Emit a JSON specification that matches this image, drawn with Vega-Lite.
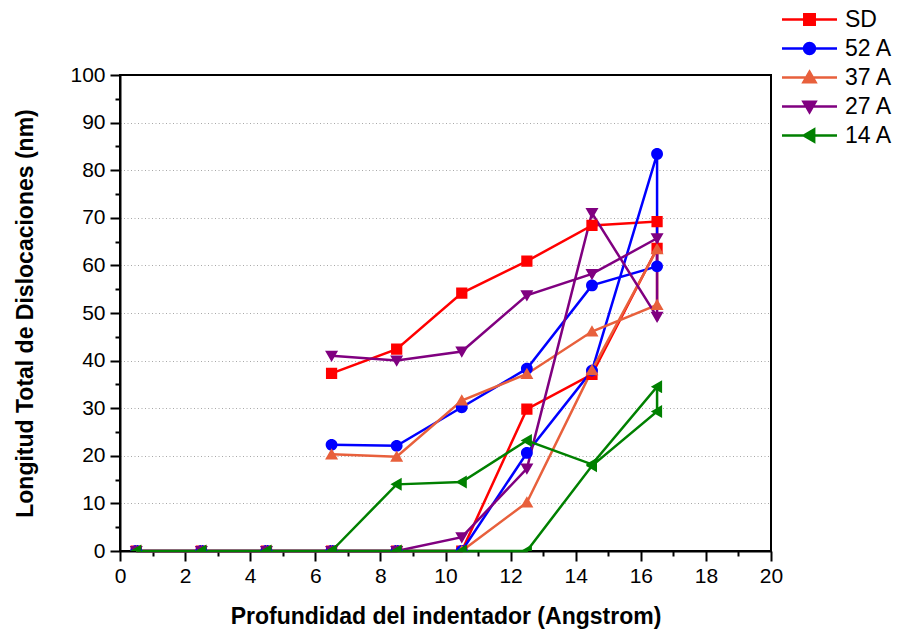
{
  "$schema": "https://vega.github.io/schema/vega-lite/v6.json",
  "autosize": "none",
  "width": 651,
  "height": 476,
  "padding": {"left": 120, "top": 75, "right": 127, "bottom": 79},
  "background": "white",
  "config": {
    "font": "Liberation Sans",
    "view": {"stroke": "black", "strokeWidth": 2},
    "axis": {
      "domainColor": "black",
      "domainWidth": 2,
      "tickColor": "black",
      "tickWidth": 2,
      "labelFont": "Liberation Sans",
      "labelFontSize": 21,
      "labelColor": "black",
      "labelFlush": false,
      "titleFont": "Liberation Sans",
      "titleFontSize": 23,
      "titleFontWeight": "bold",
      "titleColor": "black",
      "labelOverlap": false
    },
    "legend": {
      "title": null,
      "orient": "none",
      "legendX": 678,
      "legendY": -67,
      "padding": 0,
      "symbolSize": 121,
      "symbolStrokeWidth": 2.5,
      "symbolOpacity": 1,
      "labelOffset": 24,
      "labelFontSize": 23,
      "labelFont": "Liberation Sans",
      "labelColor": "black",
      "rowPadding": 5
    }
  },
  "data": {
    "values": [
      {"s": "SD", "o": 1, "x": 0.5, "y": 0},
      {"s": "SD", "o": 2, "x": 2.5, "y": 0},
      {"s": "SD", "o": 3, "x": 4.5, "y": 0},
      {"s": "SD", "o": 4, "x": 6.5, "y": 0},
      {"s": "SD", "o": 5, "x": 8.5, "y": 0},
      {"s": "SD", "o": 6, "x": 10.5, "y": 0},
      {"s": "SD", "o": 7, "x": 12.5, "y": 29.8},
      {"s": "SD", "o": 8, "x": 14.5, "y": 37.1},
      {"s": "SD", "o": 9, "x": 16.5, "y": 63.6},
      {"s": "SD", "o": 10, "x": 16.5, "y": 69.2},
      {"s": "SD", "o": 11, "x": 14.5, "y": 68.4},
      {"s": "SD", "o": 12, "x": 12.5, "y": 60.9},
      {"s": "SD", "o": 13, "x": 10.5, "y": 54.2},
      {"s": "SD", "o": 14, "x": 8.5, "y": 42.4},
      {"s": "SD", "o": 15, "x": 6.5, "y": 37.3},

      {"s": "52 A", "o": 1, "x": 0.5, "y": 0},
      {"s": "52 A", "o": 2, "x": 2.5, "y": 0},
      {"s": "52 A", "o": 3, "x": 4.5, "y": 0},
      {"s": "52 A", "o": 4, "x": 6.5, "y": 0},
      {"s": "52 A", "o": 5, "x": 8.5, "y": 0},
      {"s": "52 A", "o": 6, "x": 10.5, "y": 0},
      {"s": "52 A", "o": 7, "x": 12.5, "y": 20.6},
      {"s": "52 A", "o": 8, "x": 14.5, "y": 37.9},
      {"s": "52 A", "o": 9, "x": 16.5, "y": 83.4},
      {"s": "52 A", "o": 10, "x": 16.5, "y": 59.8},
      {"s": "52 A", "o": 11, "x": 14.5, "y": 55.8},
      {"s": "52 A", "o": 12, "x": 12.5, "y": 38.3},
      {"s": "52 A", "o": 13, "x": 10.5, "y": 30.2},
      {"s": "52 A", "o": 14, "x": 8.5, "y": 22.1},
      {"s": "52 A", "o": 15, "x": 6.5, "y": 22.3},

      {"s": "37 A", "o": 1, "x": 0.5, "y": 0},
      {"s": "37 A", "o": 2, "x": 2.5, "y": 0},
      {"s": "37 A", "o": 3, "x": 4.5, "y": 0},
      {"s": "37 A", "o": 4, "x": 6.5, "y": 0},
      {"s": "37 A", "o": 5, "x": 8.5, "y": 0},
      {"s": "37 A", "o": 6, "x": 10.5, "y": 0},
      {"s": "37 A", "o": 7, "x": 12.5, "y": 10.2},
      {"s": "37 A", "o": 8, "x": 14.5, "y": 38.0},
      {"s": "37 A", "o": 9, "x": 16.5, "y": 63.4},
      {"s": "37 A", "o": 10, "x": 16.5, "y": 51.7},
      {"s": "37 A", "o": 11, "x": 14.5, "y": 46.1},
      {"s": "37 A", "o": 12, "x": 12.5, "y": 37.2},
      {"s": "37 A", "o": 13, "x": 10.5, "y": 31.6},
      {"s": "37 A", "o": 14, "x": 8.5, "y": 19.8},
      {"s": "37 A", "o": 15, "x": 6.5, "y": 20.3},

      {"s": "27 A", "o": 1, "x": 0.5, "y": 0},
      {"s": "27 A", "o": 2, "x": 2.5, "y": 0},
      {"s": "27 A", "o": 3, "x": 4.5, "y": 0},
      {"s": "27 A", "o": 4, "x": 6.5, "y": 0},
      {"s": "27 A", "o": 5, "x": 8.5, "y": 0},
      {"s": "27 A", "o": 6, "x": 10.5, "y": 2.9},
      {"s": "27 A", "o": 7, "x": 12.5, "y": 17.3},
      {"s": "27 A", "o": 8, "x": 14.5, "y": 71.0},
      {"s": "27 A", "o": 9, "x": 16.5, "y": 49.2},
      {"s": "27 A", "o": 10, "x": 16.5, "y": 65.7},
      {"s": "27 A", "o": 11, "x": 14.5, "y": 58.2},
      {"s": "27 A", "o": 12, "x": 12.5, "y": 53.7},
      {"s": "27 A", "o": 13, "x": 10.5, "y": 41.9},
      {"s": "27 A", "o": 14, "x": 8.5, "y": 40.0},
      {"s": "27 A", "o": 15, "x": 6.5, "y": 41.0},

      {"s": "14 A", "o": 1, "x": 0.5, "y": 0},
      {"s": "14 A", "o": 2, "x": 2.5, "y": 0},
      {"s": "14 A", "o": 3, "x": 4.5, "y": 0},
      {"s": "14 A", "o": 4, "x": 6.5, "y": 0},
      {"s": "14 A", "o": 5, "x": 8.5, "y": 0},
      {"s": "14 A", "o": 6, "x": 10.5, "y": 0},
      {"s": "14 A", "o": 7, "x": 12.5, "y": 0},
      {"s": "14 A", "o": 8, "x": 14.5, "y": 17.9},
      {"s": "14 A", "o": 9, "x": 16.5, "y": 29.3},
      {"s": "14 A", "o": 10, "x": 16.5, "y": 34.5},
      {"s": "14 A", "o": 11, "x": 14.5, "y": 18.2},
      {"s": "14 A", "o": 12, "x": 12.5, "y": 23.2},
      {"s": "14 A", "o": 13, "x": 10.5, "y": 14.5},
      {"s": "14 A", "o": 14, "x": 8.5, "y": 14.0},
      {"s": "14 A", "o": 15, "x": 6.5, "y": 0}
    ]
  },
  "encoding": {
    "x": {
      "field": "x", "type": "quantitative",
      "scale": {"domain": [0, 20], "nice": false, "zero": false},
      "axis": {
        "title": "Profundidad del indentador (Angstrom)",
        "values": [0,1,2,3,4,5,6,7,8,9,10,11,12,13,14,15,16,17,18,19,20],
        "labelExpr": "datum.value % 2 === 0 ? datum.label : ''",
        "tickSize": {"condition": {"test": "datum.value % 2 === 0", "value": 10}, "value": 5},
        "labelPadding": 4,
        "titlePadding": 19,
        "grid": false
      }
    },
    "y": {
      "field": "y", "type": "quantitative",
      "scale": {"domain": [0, 100], "nice": false},
      "axis": {
        "title": "Longitud Total de Dislocaciones (nm)",
        "values": [0,5,10,15,20,25,30,35,40,45,50,55,60,65,70,75,80,85,90,95,100],
        "labelExpr": "datum.value % 10 === 0 ? datum.label : ''",
        "tickSize": {"condition": {"test": "datum.value % 10 === 0", "value": 10}, "value": 5},
        "labelPadding": 5,
        "titlePadding": 32,
        "grid": true,
        "gridColor": "#a8a8a8",
        "gridWidth": 1,
        "gridDash": [1, 2.5],
        "gridOpacity": {"condition": {"test": "datum.value % 10 === 0 && datum.value > 0 && datum.value < 100", "value": 1}, "value": 0}
      }
    },
    "color": {
      "field": "s", "type": "nominal",
      "scale": {
        "domain": ["SD", "52 A", "37 A", "27 A", "14 A"],
        "range": ["#ff0000", "#0000ff", "#e8603c", "#800080", "#008000"]
      }
    }
  },
  "layer": [
    {
      "mark": {"type": "line", "strokeWidth": 2.5},
      "encoding": {
        "order": {"field": "o", "type": "quantitative"}
      }
    },
    {
      "mark": {"type": "point", "filled": true, "size": 140, "opacity": 1, "clip": true},
      "encoding": {
        "shape": {
          "field": "s", "type": "nominal",
          "scale": {
            "domain": ["SD", "52 A", "37 A", "27 A", "14 A"],
            "range": [
              "M-5,0H5M-0.95,-0.95H0.95V0.95H-0.95Z",
              "M-5,0H5M1,0A1,1 0 1,1 -1,0A1,1 0 1,1 1,0Z",
              "M-5,0H5M0,-1.05L1.1,0.85H-1.1Z",
              "M-5,0H5M0,1.05L1.1,-0.85H-1.1Z",
              "M-5,0H5M-1.05,0L0.85,-1.1V1.1Z"
            ]
          }
        }
      }
    }
  ]
}
